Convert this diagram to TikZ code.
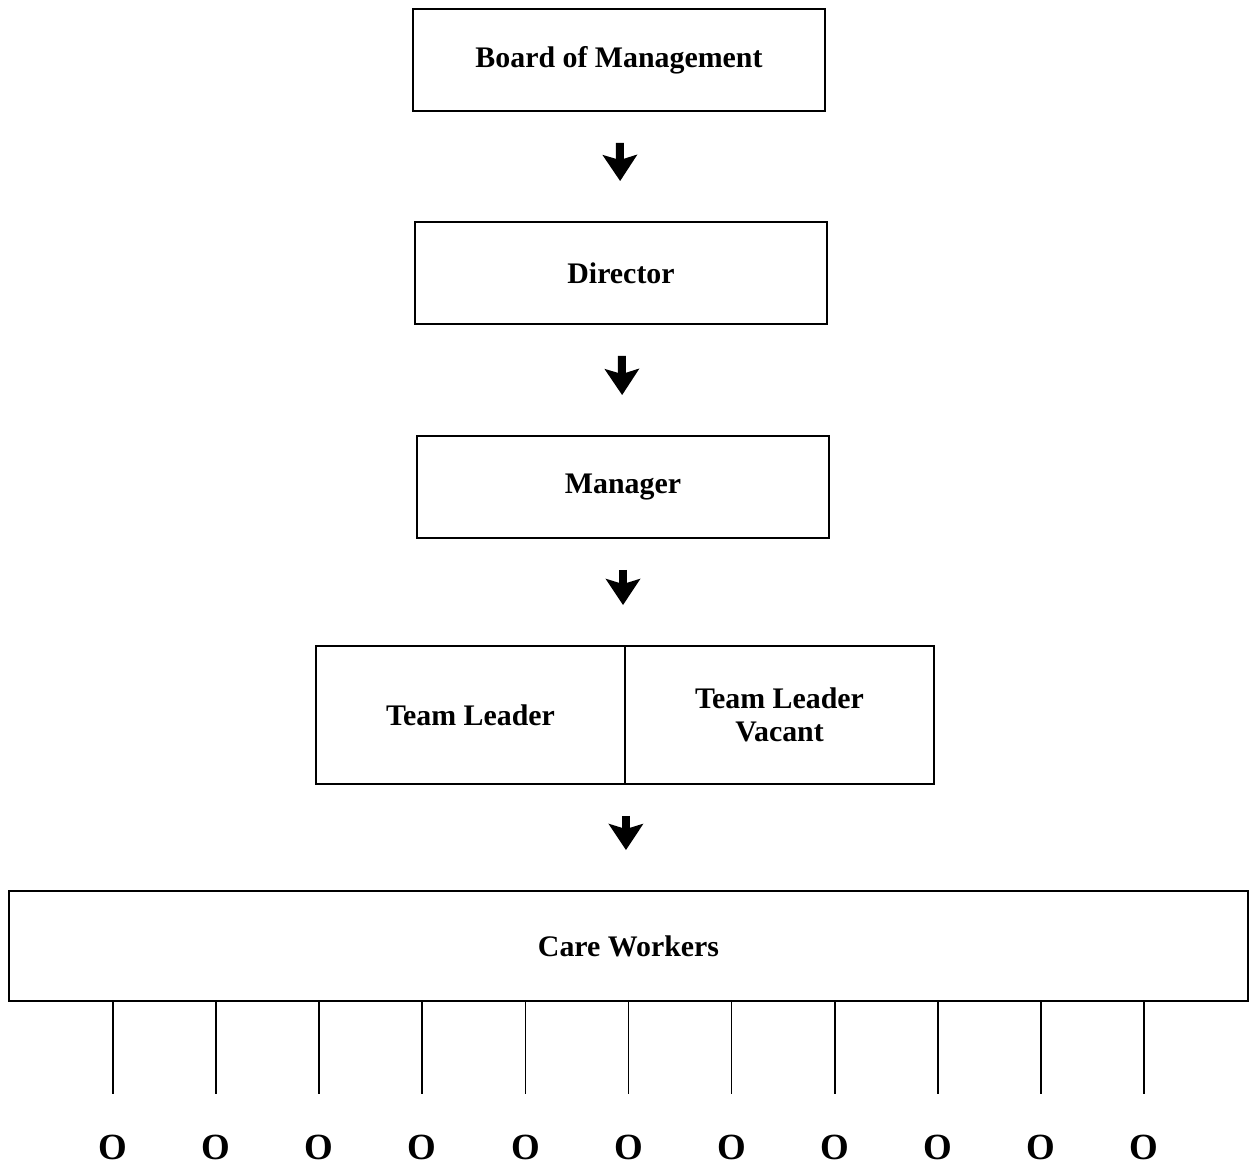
\documentclass[tikz,border=0pt]{standalone}
\usepackage{fontspec}
\setmainfont{Liberation Serif}
\usetikzlibrary{arrows.meta}

\begin{document}
\begin{tikzpicture}[x=0.02cm,y=-0.02cm]
  \tikzset{box/.style={draw,line width=1.1pt,rectangle,inner sep=0pt,minimum width=8.24cm,minimum height=2.04cm,font=\bfseries\fontsize{17}{19}\selectfont,align=center}}
  \tikzset{cell/.style={box,minimum width=6.18cm,minimum height=2.76cm}}
  \tikzset{bigarrow/.style={draw,line width=0.16cm,-{Stealth[length=0.52cm,width=0.68cm,inset=0.1cm]},shorten <=0.62cm,shorten >=0.8cm}}
  \tikzset{leg/.style={draw,line width=1pt,shorten >=0.8cm}}

  \useasboundingbox (0,0) rectangle (1254,1169);

  \node[box] (board) at (619,60) {Board of Management};
  \node[box] (director) at (621,273) {Director};
  \node[box] (manager) at (623,487) {Manager};

  \node[cell] (leader) at (470.5,715) {Team Leader};
  \node[cell] (vacant) at (779.5,715) {Team Leader\\Vacant};

  \node[box,minimum width=24.78cm,minimum height=2.2cm] (care) at (628.5,946) {Care Workers};

  \draw[bigarrow] (board) -- (director);
  \draw[bigarrow] (director) -- (manager);
  \draw[bigarrow] (manager.south) -- (manager.south |- leader.north);
  \draw[bigarrow] (leader.south east) -- (leader.south east |- care.north);

  % care workers
  \foreach \i in {0,...,10} {
    \node[inner sep=0pt,font=\bfseries\fontsize{21}{24}\selectfont] (o\i) at (113+103.1*\i,1147) {O};
    \draw[leg] (care.south -| o\i.north) -- (o\i.north);
  }

\end{tikzpicture}
\end{document}
